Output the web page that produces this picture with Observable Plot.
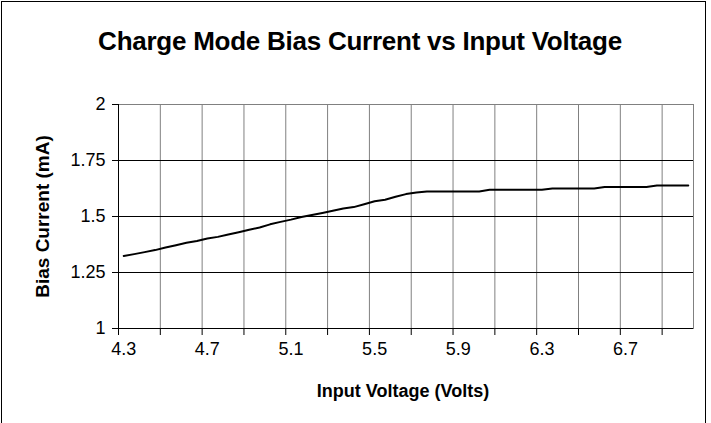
<!DOCTYPE html>
<html>
<head>
<meta charset="utf-8">
<script src="https://cdn.jsdelivr.net/npm/d3@7"></script>
<script src="https://cdn.jsdelivr.net/npm/@observablehq/plot@0.6"></script>
<style>
  html, body { margin: 0; padding: 0; background: white; }
  #wrap { position: relative; width: 711px; height: 423px; overflow: hidden; font-family: 'Liberation Sans', Arial, sans-serif; }
  #border { position: absolute; left: 1px; top: 1px; width: 703px; height: 440px; border: 1px solid black; pointer-events: none; }
  #title { height: 70px; position: relative; }
  #title span { position: absolute; left: 360px; top: 29px; transform: translateX(-50%); white-space: nowrap; font-weight: bold; font-size: 26px; line-height: 25px; color: black; letter-spacing: -0.25px; }
</style>
</head>
<body>
<div id="wrap">
  <div id="title"><span>Charge Mode Bias Current vs Input Voltage</span></div>
  <div id="chart"></div>
  <div id="border"></div>
</div>
<script>
const volts = [4.3, 4.35, 4.4, 4.45, 4.5, 4.55, 4.6, 4.65, 4.7, 4.75, 4.8, 4.85, 4.9, 4.95, 5.0, 5.05, 5.1, 5.15, 5.2, 5.25, 5.3, 5.35, 5.4, 5.45, 5.5, 5.55, 5.6, 5.65, 5.7, 5.75, 5.8, 5.85, 5.9, 5.95, 6.0, 6.05, 6.1, 6.15, 6.2, 6.25, 6.3, 6.35, 6.4, 6.45, 6.5, 6.55, 6.6, 6.65, 6.7, 6.75, 6.8, 6.85, 6.9, 6.95, 7.0];
const biasCurrent = [1.324, 1.332, 1.341, 1.350, 1.362, 1.372, 1.383, 1.391, 1.402, 1.409, 1.420, 1.430, 1.441, 1.451, 1.465, 1.476, 1.486, 1.498, 1.507, 1.516, 1.526, 1.536, 1.542, 1.555, 1.568, 1.575, 1.588, 1.600, 1.607, 1.612, 1.612, 1.612, 1.612, 1.612, 1.612, 1.619, 1.619, 1.619, 1.619, 1.619, 1.619, 1.625, 1.625, 1.625, 1.625, 1.625, 1.632, 1.632, 1.632, 1.632, 1.632, 1.638, 1.638, 1.638, 1.638];
const xTickLabels = ["4.3", "4.7", "5.1", "5.5", "5.9", "6.3", "6.7"];
const yTicks = [1, 1.25, 1.5, 1.75, 2];
const xLabel = "Input Voltage (Volts)";
const yLabel = "Bias Current (mA)";

const data = volts.map((v, i) => ({v, c: biasCurrent[i]}));
const half = (volts[1] - volts[0]) / 2;
const xDomain = [volts[0] - half, volts[volts.length - 1] + half];
// category boundaries every 4 categories (tick marks / vertical gridlines)
const gridVolts = volts.filter((_, i) => i % 4 === 0).map(v => v - half);
const labelVolts = xTickLabels.map(Number);

const chart = Plot.plot({
  width: 711,
  height: 353,
  marginLeft: 118,
  marginRight: 18,
  marginTop: 34,
  marginBottom: 95,
  style: {fontFamily: "'Liberation Sans', Arial, sans-serif", fontSize: "18px", color: "black", background: "transparent", overflow: "visible"},
  x: {type: "linear", domain: xDomain},
  y: {type: "linear", domain: [yTicks[0], yTicks[yTicks.length - 1]]},
  marks: [
    Plot.ruleX(gridVolts, {stroke: "#808080", strokeWidth: 1}),
    Plot.ruleY(yTicks.slice(1, -1), {stroke: "black", strokeWidth: 1}),
    Plot.frame({stroke: "#808080", strokeWidth: 1}),
    Plot.ruleY([yTicks[0]], {stroke: "black", strokeWidth: 1}),
    Plot.ruleX([xDomain[0]], {stroke: "black", strokeWidth: 1}),
    Plot.axisX(gridVolts, {tickSize: 7, tickFormat: () => "", label: null, stroke: "black"}),
    Plot.axisX(labelVolts, {tickSize: 0, tickPadding: 14, tickFormat: d => d.toFixed(1), label: null, fontSize: 18, fill: "black"}),
    Plot.axisY(yTicks, {tickSize: 6, tickPadding: 7, tickFormat: d => String(d), label: null, fontSize: 18, fill: "black", stroke: "black"}),
    Plot.line(data, {x: "v", y: "c", stroke: "black", strokeWidth: 2}),
    Plot.text([yLabel], {frameAnchor: "left", rotate: -90, dx: -76, textAnchor: "middle", lineAnchor: "middle", fontWeight: "bold", fontSize: 19, fill: "black"}),
    Plot.text([xLabel], {frameAnchor: "bottom", dy: 63, dx: -3, textAnchor: "middle", lineAnchor: "middle", fontWeight: "bold", fontSize: 18, fill: "black"})
  ]
});
document.getElementById("chart").appendChild(chart);
</script>
</body>
</html>
